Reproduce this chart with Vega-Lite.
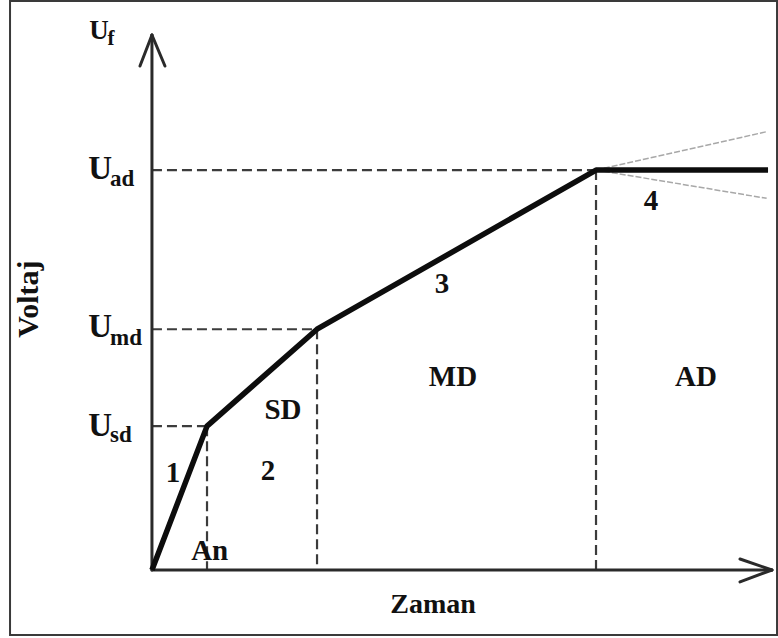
{
  "$schema": "https://vega.github.io/schema/vega-lite/v6.json",
  "width": 778,
  "height": 638,
  "autosize": "none",
  "padding": 0,
  "background": "white",
  "config": {"view": {"stroke": null}},
  "datasets": {
    "frame": [{"x": -2.335, "x2": 10.284, "y": -1.08, "y2": 9.453}],
    "dashes": [
      {"x": 0, "y": 2.39, "x2": 0.906, "y2": 2.39},
      {"x": 0, "y": 4.0, "x2": 2.716, "y2": 4.0},
      {"x": 0, "y": 6.645, "x2": 7.306, "y2": 6.645},
      {"x": 0.906, "y": 2.39, "x2": 0.906, "y2": 0},
      {"x": 2.716, "y": 4.0, "x2": 2.716, "y2": 0},
      {"x": 7.306, "y": 6.645, "x2": 7.306, "y2": 0}
    ],
    "axes": [
      {"x": 0, "y": 0, "x2": 10.2, "y2": 0},
      {"x": 0, "y": 0, "x2": 0, "y2": 8.889},
      {"x": 9.675, "y": 0.183, "x2": 10.2, "y2": 0},
      {"x": 9.675, "y": -0.199, "x2": 10.2, "y2": 0},
      {"x": -0.197, "y": 8.373, "x2": 0, "y2": 8.889},
      {"x": 0.214, "y": 8.373, "x2": 0, "y2": 8.889}
    ],
    "fan": [
      {"x": 7.306, "y": 6.645, "x2": 10.113, "y2": 7.282},
      {"x": 7.306, "y": 6.645, "x2": 10.113, "y2": 6.175}
    ],
    "curve": [
      {"i": 0, "x": 0, "y": 0},
      {"i": 1, "x": 0.906, "y": 2.39},
      {"i": 2, "x": 2.716, "y": 4.0},
      {"i": 3, "x": 7.306, "y": 6.645},
      {"i": 4, "x": 10.136, "y": 6.645}
    ],
    "ubig": [
      {"x": -1.05, "y": 6.496, "t": "U"},
      {"x": -1.05, "y": 3.871, "t": "U"},
      {"x": -1.05, "y": 2.226, "t": "U"}
    ],
    "usub": [
      {"x": -0.69, "y": 6.38, "t": "ad"},
      {"x": -0.69, "y": 3.738, "t": "md"},
      {"x": -0.69, "y": 2.127, "t": "sd"}
    ],
    "uf": [{"x": -1.03, "y": 8.822, "t": "U"}],
    "ufsub": [{"x": -0.73, "y": 8.722, "t": "f"}],
    "labels": [
      {"x": 0.346, "y": 1.462, "t": "1"},
      {"x": 1.909, "y": 1.495, "t": "2"},
      {"x": 4.772, "y": 4.602, "t": "3"},
      {"x": 8.21, "y": 5.981, "t": "4"},
      {"x": 2.156, "y": 2.509, "t": "SD"},
      {"x": 4.953, "y": 3.05, "t": "MD"},
      {"x": 8.95, "y": 3.05, "t": "AD"},
      {"x": 0.95, "y": 0.166, "t": "An"}
    ],
    "xtitle": [{"x": 4.624, "y": -0.714, "t": "Zaman"}],
    "ytitle": [{"x": -2.023, "y": 4.502, "t": "Voltaj"}]
  },
  "encoding": {
    "x": {"field": "x", "type": "quantitative", "axis": null, "scale": {"domain": [-2.5, 10.3], "nice": false, "zero": false}},
    "y": {"field": "y", "type": "quantitative", "axis": null, "scale": {"domain": [-1.13, 9.47], "nice": false, "zero": false}}
  },
  "layer": [
    {
      "data": {"name": "frame"},
      "mark": {"type": "rect", "fill": null, "fillOpacity": 0, "stroke": "#3a3a3a", "strokeWidth": 2},
      "encoding": {"x2": {"field": "x2"}, "y2": {"field": "y2"}}
    },
    {
      "data": {"name": "dashes"},
      "mark": {"type": "rule", "color": "#3c3c3c", "strokeWidth": 2.2, "strokeDash": [10, 5]},
      "encoding": {"x2": {"field": "x2"}, "y2": {"field": "y2"}}
    },
    {
      "data": {"name": "fan"},
      "mark": {"type": "rule", "color": "#a8a8a8", "strokeWidth": 1.5, "strokeDash": [6, 2]},
      "encoding": {"x2": {"field": "x2"}, "y2": {"field": "y2"}}
    },
    {
      "data": {"name": "axes"},
      "mark": {"type": "rule", "color": "#2a2a2a", "strokeWidth": 3, "strokeCap": "round"},
      "encoding": {"x2": {"field": "x2"}, "y2": {"field": "y2"}}
    },
    {
      "data": {"name": "curve"},
      "mark": {"type": "line", "color": "#0d0d0d", "strokeWidth": 5.5, "strokeJoin": "round"},
      "encoding": {"order": {"field": "i"}}
    },
    {
      "data": {"name": "ubig"},
      "mark": {"type": "text", "font": "Liberation Serif", "fontWeight": "bold", "fontSize": 33, "align": "left", "baseline": "alphabetic", "color": "#111"},
      "encoding": {"text": {"field": "t"}}
    },
    {
      "data": {"name": "usub"},
      "mark": {"type": "text", "font": "Liberation Serif", "fontWeight": "bold", "fontSize": 23, "align": "left", "baseline": "alphabetic", "color": "#111"},
      "encoding": {"text": {"field": "t"}}
    },
    {
      "data": {"name": "uf"},
      "mark": {"type": "text", "font": "Liberation Serif", "fontWeight": "bold", "fontSize": 27, "align": "left", "baseline": "alphabetic", "color": "#111"},
      "encoding": {"text": {"field": "t"}}
    },
    {
      "data": {"name": "ufsub"},
      "mark": {"type": "text", "font": "Liberation Serif", "fontWeight": "bold", "fontSize": 21, "align": "left", "baseline": "alphabetic", "color": "#111"},
      "encoding": {"text": {"field": "t"}}
    },
    {
      "data": {"name": "labels"},
      "mark": {"type": "text", "font": "Liberation Serif", "fontWeight": "bold", "fontSize": 29, "align": "center", "baseline": "alphabetic", "color": "#111"},
      "encoding": {"text": {"field": "t"}}
    },
    {
      "data": {"name": "xtitle"},
      "mark": {"type": "text", "font": "Liberation Serif", "fontWeight": "bold", "fontSize": 28, "align": "center", "baseline": "alphabetic", "color": "#111"},
      "encoding": {"text": {"field": "t"}}
    },
    {
      "data": {"name": "ytitle"},
      "mark": {"type": "text", "font": "Liberation Serif", "fontWeight": "bold", "fontSize": 30, "align": "center", "baseline": "middle", "angle": 270, "color": "#111"},
      "encoding": {"text": {"field": "t"}}
    }
  ]
}
